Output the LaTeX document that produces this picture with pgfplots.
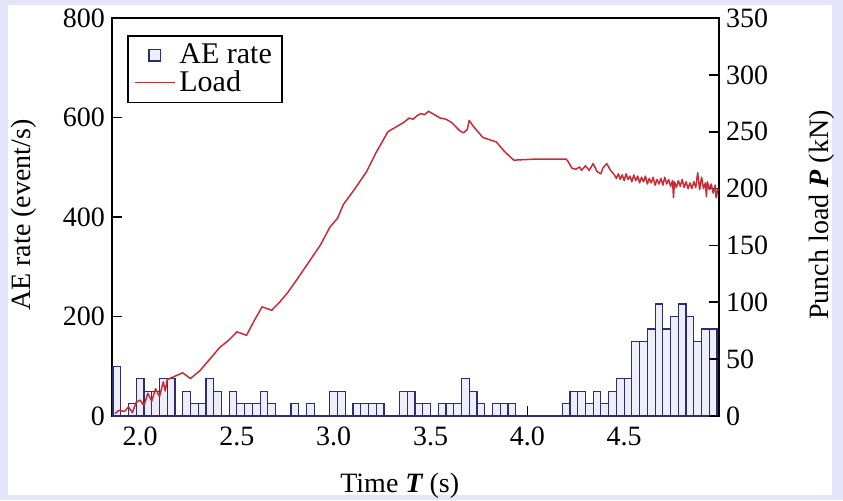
\documentclass[border=0pt]{standalone}
\usepackage{pgfplots}
\pgfplotsset{compat=1.18}
\usepackage{pgfplotstable}
\usepackage{fontspec}
\setmainfont{Liberation Serif}

\definecolor{barline}{RGB}{45,45,115}
\definecolor{barfill}{RGB}{238,238,251}
\definecolor{loadred}{RGB}{200,45,55}
\definecolor{bgl}{RGB}{228,228,250}

% AE events counted in 0.04 s bins (left edge of each bin, rate in event/s)
\pgfplotstableread{
t rate
1.86 100
1.90 0
1.94 25
1.98 75
2.02 50
2.06 50
2.10 75
2.14 75
2.18 0
2.22 50
2.26 25
2.30 25
2.34 75
2.38 50
2.42 0
2.46 50
2.50 25
2.54 25
2.58 25
2.62 50
2.66 25
2.70 0
2.74 0
2.78 25
2.82 0
2.86 25
2.90 0
2.94 0
2.98 50
3.02 50
3.06 0
3.10 25
3.14 25
3.18 25
3.22 25
3.26 0
3.30 0
3.34 50
3.38 50
3.42 25
3.46 25
3.50 0
3.54 25
3.58 25
3.62 25
3.66 75
3.70 50
3.74 25
3.78 0
3.82 25
3.86 25
3.90 25
3.94 0
3.98 0
4.02 0
4.06 0
4.10 0
4.14 0
4.18 25
4.22 50
4.26 50
4.30 25
4.34 50
4.38 25
4.42 50
4.46 75
4.50 75
4.54 150
4.58 150
4.62 175
4.66 225
4.70 175
4.74 200
4.78 225
4.82 200
4.86 150
4.90 175
4.94 175
4.98 175
}\aerate

% Punch load (kN) against time (s)
\pgfplotstableread{
t P
1.87 2
1.89 5
1.92 4
1.94 8
1.96 3
1.98 12
2.00 14
2.02 9
2.04 20
2.06 13
2.08 24
2.10 17
2.12 30
2.13 22
2.14 32
2.18 35
2.22 38
2.26 33
2.31 40
2.36 50
2.41 60
2.46 67
2.50 74
2.55 71
2.59 84
2.63 96
2.68 93
2.72 100
2.76 108
2.81 120
2.87 135
2.93 150
2.98 166
3.02 174
3.05 186
3.11 200
3.17 215
3.22 232
3.28 250
3.32 254
3.36 258
3.39 262
3.41 261
3.43 264
3.45 266
3.47 265
3.49 268
3.52 265
3.55 262
3.58 261
3.61 258
3.65 251
3.67 249
3.69 252
3.70 260
3.72 255
3.77 245
3.84 241
3.88 233
3.93 225
4.05 226
4.20 226
4.21 224
4.23 218
4.25 217
4.27 219
4.28 216
4.30 220
4.32 216
4.34 222
4.36 215
4.38 213
4.39 218
4.41 222
4.43 216
4.45 212
4.46 209
4.47 213
4.48 208
4.49 212
4.50 207
4.51 213
4.52 208
4.53 211
4.54 206
4.55 212
4.56 207
4.57 211
4.58 205
4.59 210
4.60 206
4.61 211
4.62 204
4.63 209
4.64 205
4.65 210
4.66 203
4.67 208
4.68 204
4.69 209
4.70 203
4.71 210
4.72 204
4.73 208
4.74 202
4.75 207
4.755 192
4.76 206
4.77 201
4.78 207
4.79 202
4.80 208
4.81 201
4.82 206
4.83 200
4.84 205
4.85 200
4.86 206
4.87 201
4.88 214
4.89 199
4.90 210
4.91 200
4.92 205
4.925 193
4.93 206
4.94 199
4.95 204
4.96 196
4.97 203
4.975 192
4.985 200
}\load

\begin{document}
\begin{tikzpicture}
\fill[bgl] (0,0) rectangle (421.5pt,250pt);
\fill[white] (4pt,2.5pt) rectangle (416pt,247.5pt);

\pgfplotsset{
  common/.style={
    at={(56pt,42pt)}, anchor=south west,
    scale only axis, width=303.5pt, height=199pt,
    xmin=1.855, xmax=4.99,
    tick align=inside,
    major tick length=5pt,
    axis line style={line width=0.9pt},
    every tick/.style={line width=0.8pt, black},
    font=\fontsize{14}{16}\selectfont,
    /pgf/number format/assume math mode=true,
  }
}

\begin{axis}[common,
  ymin=0, ymax=800,
  ytick={0,200,400,600,800},
  ytick pos=left,
  xtick={2.0,2.5,3.0,3.5,4.0,4.5},
  xtick pos=bottom,
  xticklabel style={yshift=-2pt, /pgf/number format/fixed, /pgf/number format/fixed zerofill, /pgf/number format/precision=1},
  xlabel={Time {\bfseries\itshape T} (s)},
  ylabel={AE rate (event/s)},
  xlabel style={at={(axis description cs:0.474,-0.175)}, anchor=center},
  ylabel style={at={(axis description cs:-0.145,0.505)}, anchor=center},
  legend style={at={(axis description cs:0.025,0.957)}, anchor=north west,
    draw=black, line width=0.8pt, font=\fontsize{15}{16}\selectfont,
    inner xsep=3pt, inner ysep=2pt, row sep=-2pt, cells={anchor=west}},
]
\addplot[ybar interval, draw=barline, fill=barfill, line width=0.6pt,
  legend image code/.code={\draw[barline, fill=barfill, line width=0.6pt] (0.25cm,-0.1cm) rectangle (0.45cm,0.1cm);}]
  table[x=t, y=rate] {\aerate};
\addlegendentry{AE rate}
\addlegendimage{loadred, line width=0.8pt, legend image code/.code={\draw[loadred, line width=0.8pt] (0cm,0cm) -- (0.7cm,0cm);}}
\addlegendentry{Load}
\end{axis}

\begin{axis}[common,
  ymin=0, ymax=350,
  ytick={0,50,...,350},
  axis y line*=right,
  axis x line=none,
  ylabel={Punch load {\bfseries\itshape P} (kN)},
  ylabel style={at={(axis description cs:1.17,0.505)}, anchor=center, rotate=0},
]
\addplot[loadred, line width=0.75pt, line join=round] table[x=t, y=P] {\load};
\end{axis}

\pgfresetboundingbox
\path[use as bounding box] (0,0) rectangle (421.5pt,250pt);
\end{tikzpicture}
\end{document}
